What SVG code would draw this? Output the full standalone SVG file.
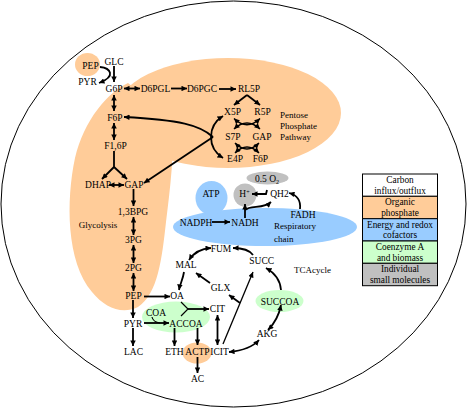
<svg xmlns="http://www.w3.org/2000/svg" width="467" height="408" viewBox="0 0 467 408">
<style>
text{font-family:"Liberation Serif","Times New Roman",serif;font-size:9.5px;fill:#000;text-anchor:middle}
.d{font-size:9px;text-anchor:start}
.lg{font-size:9.3px}
.c{fill:none;stroke:#000;stroke-width:1.8}
.e{marker-end:url(#ah)}
.b{marker-start:url(#ah);marker-end:url(#ah)}
.x{stroke-width:1.5}
.org{fill:#FFCC99}
.blu{fill:#99CCFF}
.grn{fill:#CCFFCC}
.gry{fill:#C0C0C0}
</style>
<defs>
<marker id="ah" viewBox="0 0 10 10" refX="10" refY="5" markerWidth="6" markerHeight="5.5" markerUnits="userSpaceOnUse" orient="auto-start-reverse">
<path d="M0,0 L10,5 L0,10 z" fill="#000"/>
</marker>
</defs>
<rect width="467" height="408" fill="#fff"/>
<ellipse id="cell" cx="233.5" cy="204" rx="232.5" ry="203" fill="none" stroke="#000" stroke-width="1"/>

<g id="regions">
<ellipse id="ppp-region" class="org" cx="228" cy="113" rx="113" ry="55"/>
<path id="glycolysis-region" class="org" d="M128 83 C108 92 84 120 75 158 C66 200 66 262 92 292 C105 308 122 315 138 307 C158 294 162 258 166 222 C170 190 175 150 172 118 Z"/>
<ellipse id="pep-region" class="org" cx="87.5" cy="64.5" rx="12.5" ry="11.5"/>
<ellipse id="resp-region" class="blu" cx="265" cy="227" rx="92" ry="19"/>
<ellipse id="atp-region" class="blu" cx="211.5" cy="198" rx="16" ry="17"/>
<ellipse id="o2-region" class="gry" cx="267.5" cy="178" rx="21" ry="6.5"/>
<circle id="h-region" class="gry" cx="245" cy="195" r="11.5"/>
<ellipse id="coa-region" class="grn" cx="176" cy="317" rx="34" ry="15.5"/>
<ellipse id="succoa-region" class="grn" cx="279.5" cy="301" rx="24" ry="11"/>
<ellipse id="actp-region" class="org" cx="197" cy="353" rx="14.5" ry="10.5"/>
</g>

<g id="connectors">
<path class="c e" d="M114 66 V82"/>
<path class="c e" d="M100 67 C110 68 117 76 99 83"/>
<path class="c b" d="M124 88.5 H140"/>
<path class="c e" d="M171 88.5 H187"/>
<path class="c e" d="M219 89 H236"/>
<path class="c e" d="M247 95 L234 105"/>
<path class="c e" d="M247 95 L260 105"/>
<path class="c b x" d="M234 118.5 Q247 131 260 118.5"/>
<path class="c b x" d="M234 129 Q247 117 260 129"/>
<path class="c b x" d="M235 143 Q247 155 259 143"/>
<path class="c b x" d="M235 153 Q247 141 259 153"/>
<path class="c b" d="M223 116 C207 126 207 148 223 158"/>
<path class="c e" d="M213 137 C200 125 180 120 124 117"/>
<path class="c e" d="M213 137 L144 183"/>
<path class="c b" d="M114 95 V111"/>
<path class="c b" d="M114 123 V140"/>
<path class="c" d="M114 151 V167"/>
<path class="c e" d="M114 167 L102 179"/>
<path class="c e" d="M114 167 L127 179"/>
<path class="c b" d="M109 185 H124"/>
<path class="c e" d="M133.5 189 V206"/>
<path class="c b" d="M133.5 217 V235"/>
<path class="c b" d="M133.5 245 V263"/>
<path class="c b" d="M133.5 273 V291"/>
<path class="c e" d="M144 296.5 H170"/>
<path class="c e" d="M133 300 V318"/>
<path class="c e" d="M133 328 V346"/>
<path class="c e" d="M144 323 H169"/>
<path class="c" style="stroke-width:1.2" d="M152 317 Q153 322 160 323"/>
<path class="c" style="stroke-width:1.2" d="M181 302 L188 309 L181 316"/>
<path class="c e" d="M188 309 H209"/>
<path class="c e" d="M174.5 328 V346"/>
<path class="c e" d="M197.5 328 V345"/>
<path class="c e" d="M197.5 357 V373"/>
<path class="c b" d="M217.5 315 V345"/>
<path class="c e" style="stroke-width:1.3" d="M223 344 L253 272"/>
<path class="c e" d="M240 303 L229 295"/>
<path class="c e" d="M210 283 L196 273"/>
<path class="c e" d="M184 272 C183 279 180 284 179 290"/>
<path class="c b" d="M189 260 Q196 249 211 248"/>
<path class="c e" d="M253 255 Q248 248 233 248"/>
<path class="c e" d="M281 290 Q280 276 266 268"/>
<path class="c b" d="M268 330 Q278 320 281 305"/>
<path class="c b" d="M229 352 Q250 350 259 340"/>
<path class="c e" d="M212 222 H230"/>
<path class="c e" d="M245 218 V204"/>
<path class="c e" d="M267 190 L266 194 H252"/>
<path class="c e" d="M245 210 C250 205 264 209 271 202"/>
<path class="c e" d="M300 209 C301 200 297 195 289 193"/>
</g>

<g id="n-glc"><text x="114" y="64.5">GLC</text></g>
<g id="n-pep1"><text x="90.5" y="68.5">PEP</text></g>
<g id="n-pyr1"><text x="87.5" y="84.5">PYR</text></g>
<g id="n-g6p"><text x="114" y="91.5">G6P</text></g>
<g id="n-d6pgl"><text x="155.5" y="91.5">D6PGL</text></g>
<g id="n-d6pgc"><text x="202" y="91.5">D6PGC</text></g>
<g id="n-rl5p"><text x="249" y="91.5">RL5P</text></g>
<g id="n-x5p"><text x="232.5" y="115">X5P</text></g>
<g id="n-r5p"><text x="262.5" y="115">R5P</text></g>
<g id="n-s7p"><text x="233" y="140">S7P</text></g>
<g id="n-gap2"><text x="262" y="140">GAP</text></g>
<g id="n-e4p"><text x="235" y="162">E4P</text></g>
<g id="n-f6p2"><text x="260.5" y="162">F6P</text></g>
<g id="n-ppp"><text class="d" x="280" y="118">Pentose</text><text class="d" x="280" y="129">Phosphate</text><text class="d" x="280" y="140">Pathway</text></g>
<g id="n-f6p"><text x="115" y="121">F6P</text></g>
<g id="n-f16p"><text x="115.5" y="148.5">F1,6P</text></g>
<g id="n-dhap"><text x="98" y="187.5">DHAP</text></g>
<g id="n-gap"><text x="134" y="187.5">GAP</text></g>
<g id="n-13bpg"><text x="133" y="215">1,3BPG</text></g>
<g id="n-glycolysis"><text x="98" y="228" style="font-size:9px">Glycolysis</text></g>
<g id="n-3pg"><text x="133.5" y="243">3PG</text></g>
<g id="n-2pg"><text x="133.5" y="270.5">2PG</text></g>
<g id="n-pep"><text x="133.5" y="299">PEP</text></g>
<g id="n-oa"><text x="177" y="299">OA</text></g>
<g id="n-pyr"><text x="133" y="326.5">PYR</text></g>
<g id="n-lac"><text x="133.5" y="355">LAC</text></g>
<g id="n-coa"><text x="156" y="316">COA</text></g>
<g id="n-accoa"><text x="186" y="326.5">ACCOA</text></g>
<g id="n-cit"><text x="217.5" y="312">CIT</text></g>
<g id="n-eth"><text x="174.5" y="355">ETH</text></g>
<g id="n-actp"><text x="197.5" y="355">ACTP</text></g>
<g id="n-icit"><text x="219.5" y="355">ICIT</text></g>
<g id="n-ac"><text x="197.5" y="381.5">AC</text></g>
<g id="n-mal"><text x="186" y="268">MAL</text></g>
<g id="n-glx"><text x="220.5" y="290.5">GLX</text></g>
<g id="n-fum"><text x="221" y="251.5">FUM</text></g>
<g id="n-succ"><text x="261.7" y="264">SUCC</text></g>
<g id="n-succoa"><text x="280" y="305">SUCCOA</text></g>
<g id="n-akg"><text x="267" y="337">AKG</text></g>
<g id="n-tca"><text class="d" x="294" y="273">TCAcycle</text></g>
<g id="n-o2"><text x="267" y="181.5">0.5 O<tspan font-size="6" dy="2">2</tspan></text></g>
<g id="n-atp"><text x="211" y="197">ATP</text></g>
<g id="n-h"><text x="244.5" y="197">H<tspan font-size="6" dy="-3">+</tspan></text></g>
<g id="n-qh2"><text x="279.5" y="197">QH2</text></g>
<g id="n-nadph"><text x="196" y="226">NADPH</text></g>
<g id="n-nadh"><text x="245" y="226">NADH</text></g>
<g id="n-fadh"><text x="303" y="218">FADH</text></g>
<g id="n-resp"><text class="d" x="274" y="228.5">Respiratory</text><text class="d" x="274" y="241.5">chain</text></g>

<g id="legend" stroke="#000" stroke-width="1">
<rect x="362.5" y="174" width="75" height="22.3" fill="#fff"/>
<rect x="362.5" y="196.3" width="75" height="22.4" class="org"/>
<rect x="362.5" y="218.7" width="75" height="22.3" class="blu"/>
<rect x="362.5" y="241" width="75" height="22.3" class="grn"/>
<rect x="362.5" y="263.3" width="75" height="22.4" class="gry"/>
<g stroke="none">
<text class="lg" x="400" y="183">Carbon</text>
<text class="lg" x="400" y="193.5">influx/outflux</text>
<text class="lg" x="400" y="205.3">Organic</text>
<text class="lg" x="400" y="215.8">phosphate</text>
<text class="lg" x="400" y="227.7">Energy and redox</text>
<text class="lg" x="400" y="238.2">cofactors</text>
<text class="lg" x="400" y="250">Coenzyme A</text>
<text class="lg" x="400" y="260.5">and biomass</text>
<text class="lg" x="400" y="272.3">Individual</text>
<text class="lg" x="400" y="282.8">small molecules</text>
</g>
</g>
</svg>
